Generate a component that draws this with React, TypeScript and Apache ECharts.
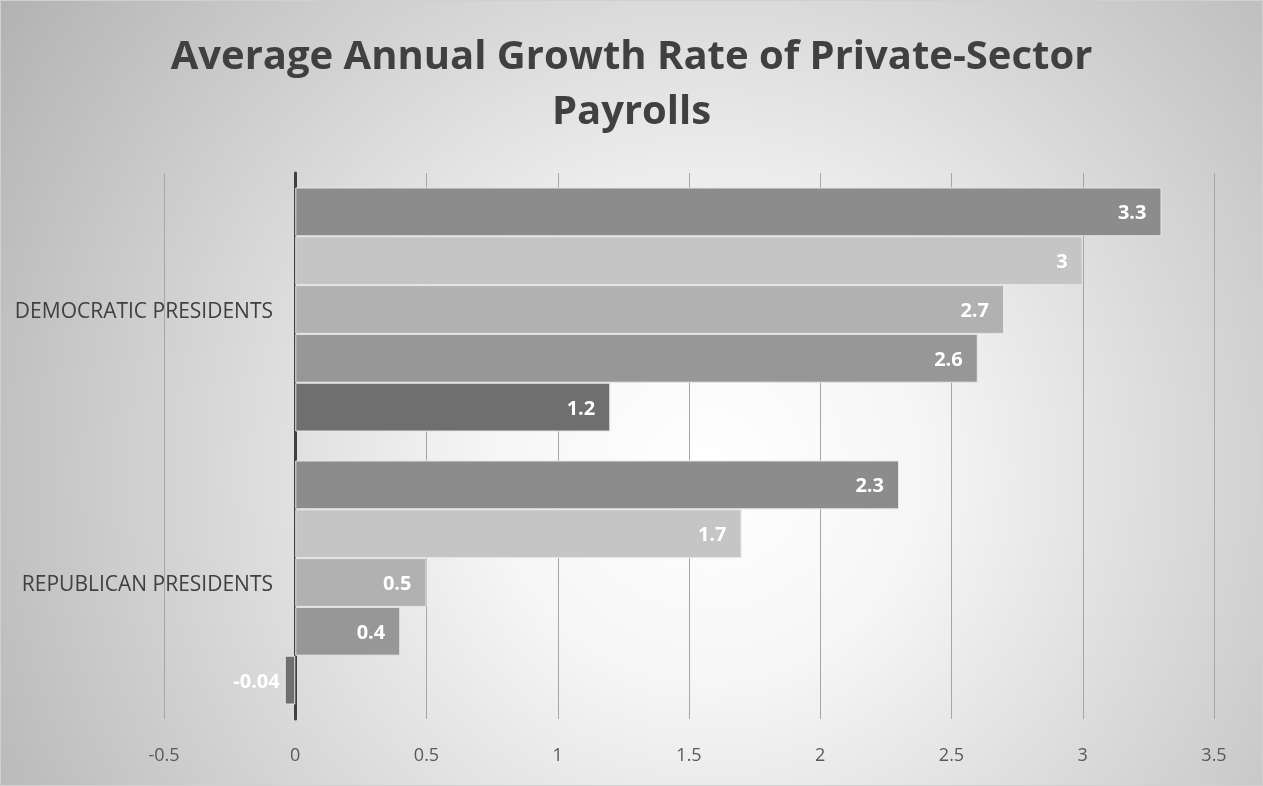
import React, { useEffect, useRef } from "react";
import * as echarts from "echarts";

const categories = ["DEMOCRATIC PRESIDENTS", "REPUBLICAN PRESIDENTS"];
const seriesNames = ["Series 1", "Series 2", "Series 3", "Series 4", "Series 5"];
const seriesValues: number[][] = [
  [3.3, 2.3],
  [3, 1.7],
  [2.7, 0.5],
  [2.6, 0.4],
  [1.2, -0.04],
];
const seriesColors = ["#8c8c8c", "#c5c5c5", "#b1b1b1", "#979797", "#6f6f6f"];
const xTicks = { min: -0.5, max: 3.5, interval: 0.5 };
const titleText = "Average Annual Growth Rate of Private-Sector\nPayrolls";

export default function App() {
  const ref = useRef<HTMLDivElement>(null);
  useEffect(() => {
    if (!ref.current) return;
    const chart = echarts.init(ref.current, undefined, { renderer: "svg" });
    const font = "'Open Sans', sans-serif";
    chart.setOption({
      animation: false,
      backgroundColor: "transparent",
      title: {
        text: titleText,
        left: "center",
        top: 20,
        textStyle: {
          fontFamily: font,
          fontWeight: "bold",
          fontSize: 40,
          color: "#404040",
          lineHeight: 55,
        },
      },
      grid: {
        left: 163,
        right: 48,
        top: 172,
        bottom: 66,
        containLabel: false,
        outerBoundsMode: "none",
      },
      xAxis: {
        type: "value",
        min: xTicks.min,
        max: xTicks.max,
        interval: xTicks.interval,
        axisLine: { show: false },
        axisTick: { show: false },
        splitLine: { show: true, lineStyle: { color: "#a6a6a6", width: 1 } },
        axisLabel: {
          fontFamily: font,
          fontSize: 18,
          color: "#595959",
          margin: 26,
        },
      },
      yAxis: {
        type: "category",
        data: categories,
        inverse: true,
        axisLine: { show: true, onZero: true, lineStyle: { color: "#404040", width: 3 } },
        axisTick: { show: false },
        splitLine: { show: false },
        axisLabel: {
          fontFamily: font,
          fontSize: 21,
          color: "#404040",
          margin: -109,
        },
      },
      series: seriesNames.map((name, i) => ({
        name,
        type: "bar",
        data: seriesValues[i].map((v) =>
          v < 0
            ? { value: v, label: { position: "left", distance: 5 } }
            : { value: v }
        ),
        barGap: "0%",
        barCategoryGap: "10.6%",
        itemStyle: { color: seriesColors[i], borderColor: "#e6e6e6", borderWidth: 1 },
        label: {
          show: true,
          position: "insideRight",
          distance: 15,
          color: "#ffffff",
          fontFamily: font,
          fontWeight: "bold",
          fontSize: 20,
        },
      })),
    });
    return () => chart.dispose();
  }, []);
  return (
    <div
      style={{
        position: "fixed",
        left: 0,
        top: 0,
        width: 1263,
        height: 786,
        boxSizing: "border-box",
        border: "1px solid #d0d0d0",
        background:
          "radial-gradient(circle farthest-corner at 56% 60%, #ffffff 0%, #f6f6f6 25%, #b2b2b2 100%)",
      }}
    >
      <div ref={ref} style={{ width: "100%", height: "100%" }} />
    </div>
  );
}
